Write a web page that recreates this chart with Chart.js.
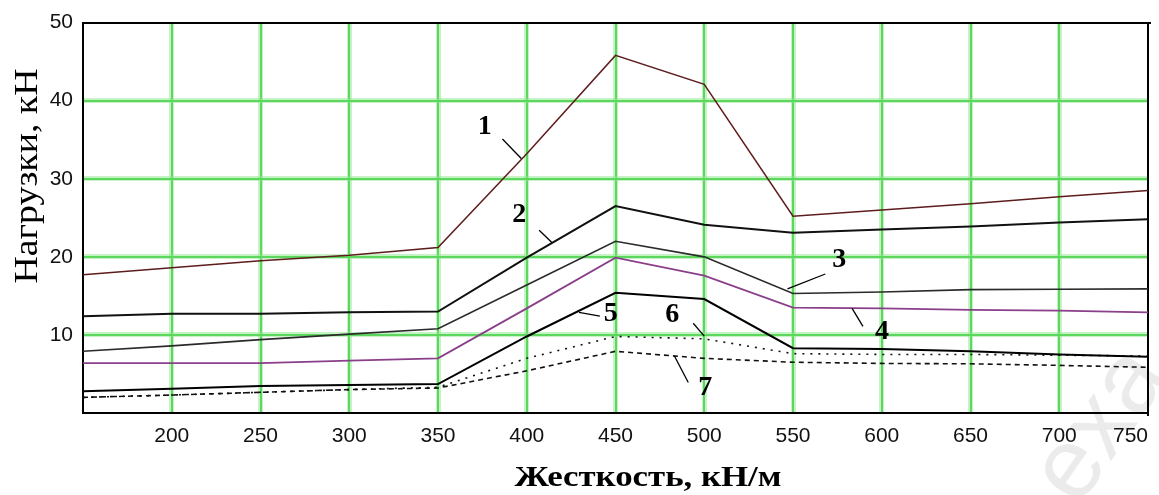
<!DOCTYPE html>
<html>
<head>
<meta charset="utf-8">
<script src="https://cdn.jsdelivr.net/npm/chart.js@4.4.1/dist/chart.umd.min.js"></script>
<style>
  html, body { margin: 0; padding: 0; background: #fff; }
  #wrap { width: 1159px; height: 495px; }
</style>
</head>
<body>
<div id="wrap"><canvas id="c" width="1159" height="495"></canvas></div>
<script>
// Жесткость, кН/м
const stiffness = [150, 200, 250, 300, 350, 400, 450, 500, 550, 600, 650, 700, 750];

// Нагрузки, кН — curves 1..7
const load1 = [17.7, 18.6, 19.5, 20.2, 21.2, 33.2, 45.8, 42.1, 25.2, 26.0, 26.8, 27.7, 28.5];
const load2 = [12.4, 12.7, 12.7, 12.9, 13.0, 19.9, 26.5, 24.1, 23.1, 23.5, 23.9, 24.4, 24.8];
const load3 = [7.9, 8.6, 9.4, 10.1, 10.8, 16.4, 22.0, 20.0, 15.3, 15.5, 15.8, 15.85, 15.9];
const load4 = [6.4, 6.4, 6.4, 6.7, 7.0, 13.4, 19.9, 17.6, 13.5, 13.4, 13.2, 13.1, 12.9];
const load5 = [2.8, 3.1, 3.45, 3.6, 3.7, 9.8, 15.4, 14.6, 8.3, 8.2, 7.9, 7.5, 7.2];
const load6 = [2.0, 2.3, 2.65, 3.0, 3.3, 7.0, 9.8, 9.5, 7.6, 7.5, 7.5, 7.4, 7.3];
const load7 = [2.0, 2.3, 2.65, 3.0, 3.2, 5.4, 7.9, 7.0, 6.5, 6.35, 6.3, 6.1, 5.85];

const curveNames = ['1', '2', '3', '4', '5', '6', '7'];
const xTitle = 'Жесткость, кН/м';
const yTitle = 'Нагрузки, кН';

const X_MIN = 150, X_MAX = 750, X_STEP = 50;
const Y_MIN = 0, Y_MAX = 50, Y_STEP = 10;

// curve number callouts, placed in data units
const callouts = [
  { text: '1', at: [376.3, 36.7], from: [386.3, 35.1], to: [396.9, 32.6] },
  { text: '2', at: [395.8, 25.4], from: [407.0, 23.4], to: [414.3, 21.8] },
  { text: '3', at: [576.0, 19.6], from: [568.2, 17.8], to: [546.9, 15.9] },
  { text: '4', at: [600.1, 10.35], from: [589.4, 11.1], to: [583.3, 13.4] },
  { text: '5', at: [447.3, 12.75], from: [441.2, 12.4], to: [429.4, 12.9] },
  { text: '6', at: [482.0, 12.6], from: [493.8, 11.5], to: [500.0, 9.85] },
  { text: '7', at: [500.5, 3.2], from: [491.0, 3.9], to: [483.2, 7.3] }
];

const series = [load1, load2, load3, load4, load5, load6, load7];
const lineStyles = [
  { color: '#5e1c1c', width: 1.5, dash: [] },
  { color: '#111111', width: 2, dash: [] },
  { color: '#2b2b2b', width: 1.6, dash: [] },
  { color: '#8a3f8a', width: 1.8, dash: [] },
  { color: '#000000', width: 2, dash: [] },
  { color: '#111111', width: 1.6, dash: [2, 6] },
  { color: '#111111', width: 1.6, dash: [5, 4] }
];

const datasets = series.map((vals, i) => ({
  label: curveNames[i],
  data: stiffness.map((s, k) => ({ x: s, y: vals[k] })),
  borderColor: lineStyles[i].color,
  borderWidth: lineStyles[i].width,
  borderDash: lineStyles[i].dash,
  pointRadius: 0,
  tension: 0,
  fill: false
}));

const GRID_CORE = '#2fc42f';
const GRID_HALO = 'rgba(140,232,140,0.5)';
const CLEAR = 'rgba(0,0,0,0)';
const TICK_FONT = { family: '"Liberation Sans", Arial, sans-serif', size: 21 };

const onEdgeX = v => v === X_MIN || v === X_MAX;
const onEdgeY = v => v === Y_MIN || v === Y_MAX;

function stretchedText(ctx, text, width) {
  const w = ctx.measureText(text).width;
  ctx.scale(width / w, 1);
  ctx.fillText(text, 0, 0);
}

const decorations = {
  id: 'decorations',
  beforeDraw(chart) {
    const ctx = chart.ctx;
    // faint watermark in the lower right corner
    ctx.save();
    ctx.translate(1078, 508);
    ctx.rotate(-55 * Math.PI / 180);
    ctx.font = '100px "Liberation Sans", sans-serif';
    ctx.fillStyle = 'rgba(0,0,0,0.08)';
    ctx.textBaseline = 'alphabetic';
    ctx.fillText('exa', 0, 0);
    ctx.restore();
  },
  afterDatasetsDraw(chart) {
    const { ctx, scales: { x, y } } = chart;
    ctx.save();
    ctx.strokeStyle = '#000';
    ctx.lineWidth = 1.3;
    ctx.fillStyle = '#000';
    ctx.font = 'bold 28px "Liberation Serif", "DejaVu Serif", serif';
    ctx.textAlign = 'center';
    ctx.textBaseline = 'middle';
    callouts.forEach(c => {
      ctx.beginPath();
      ctx.moveTo(x.getPixelForValue(c.from[0]), y.getPixelForValue(c.from[1]));
      ctx.lineTo(x.getPixelForValue(c.to[0]), y.getPixelForValue(c.to[1]));
      ctx.stroke();
      ctx.fillText(c.text, x.getPixelForValue(c.at[0]), y.getPixelForValue(c.at[1]));
    });
    ctx.restore();
  },
  afterDraw(chart) {
    const ctx = chart.ctx;
    ctx.save();
    ctx.fillStyle = '#000';
    ctx.textAlign = 'center';
    ctx.textBaseline = 'alphabetic';
    // horizontal axis title
    ctx.save();
    ctx.font = 'bold 29px "Liberation Serif", "DejaVu Serif", serif';
    ctx.translate(648, 486);
    stretchedText(ctx, xTitle, 267);
    ctx.restore();
    // vertical axis title
    ctx.save();
    ctx.font = '33px "Liberation Serif", "DejaVu Serif", serif';
    ctx.translate(37, 176);
    ctx.rotate(-Math.PI / 2);
    stretchedText(ctx, yTitle, 215);
    ctx.restore();
    ctx.restore();
  }
};

new Chart(document.getElementById('c'), {
  type: 'line',
  data: { datasets },
  plugins: [decorations],
  options: {
    responsive: false,
    animation: false,
    devicePixelRatio: 1,
    layout: { padding: { top: 17, right: 4, left: 0, bottom: 0 } },
    plugins: { legend: { display: false }, tooltip: { enabled: false } },
    scales: {
      x: {
        type: 'linear', position: 'bottom', min: X_MIN, max: X_MAX,
        ticks: {
          stepSize: X_STEP, autoSkip: false, maxRotation: 0, align: 'inner',
          padding: 11, color: '#111', font: TICK_FONT,
          callback: v => (v === X_MIN ? '' : String(v))
        },
        grid: { color: c => (onEdgeX(c.tick.value) ? CLEAR : GRID_CORE), lineWidth: 2, drawTicks: false },
        border: { color: '#000', width: 2 },
        afterFit(s) { s.height = 82; }
      },
      xHalo: {
        type: 'linear', position: 'top', min: X_MIN, max: X_MAX, z: -1,
        ticks: { display: false, stepSize: X_STEP },
        grid: { color: c => (onEdgeX(c.tick.value) ? CLEAR : GRID_HALO), lineWidth: 5, drawTicks: false },
        border: { color: '#000', width: 2 },
        afterFit(s) { s.height = 0; }
      },
      y: {
        type: 'linear', position: 'left', min: Y_MIN, max: Y_MAX,
        ticks: {
          stepSize: Y_STEP, padding: 10, color: '#111', font: TICK_FONT,
          callback: v => (v === Y_MIN ? '' : String(v))
        },
        grid: { color: c => (onEdgeY(c.tick.value) ? CLEAR : GRID_CORE), lineWidth: 2, drawTicks: false },
        border: { color: '#000', width: 2 },
        afterFit(s) { s.width = 83; }
      },
      yHalo: {
        type: 'linear', position: 'right', min: Y_MIN, max: Y_MAX, z: -1,
        ticks: { display: false, stepSize: Y_STEP },
        grid: { color: c => (onEdgeY(c.tick.value) ? CLEAR : GRID_HALO), lineWidth: 5, drawTicks: false },
        border: { color: '#000', width: 2 },
        afterFit(s) { s.width = 0; }
      }
    }
  }
});
</script>
</body>
</html>
